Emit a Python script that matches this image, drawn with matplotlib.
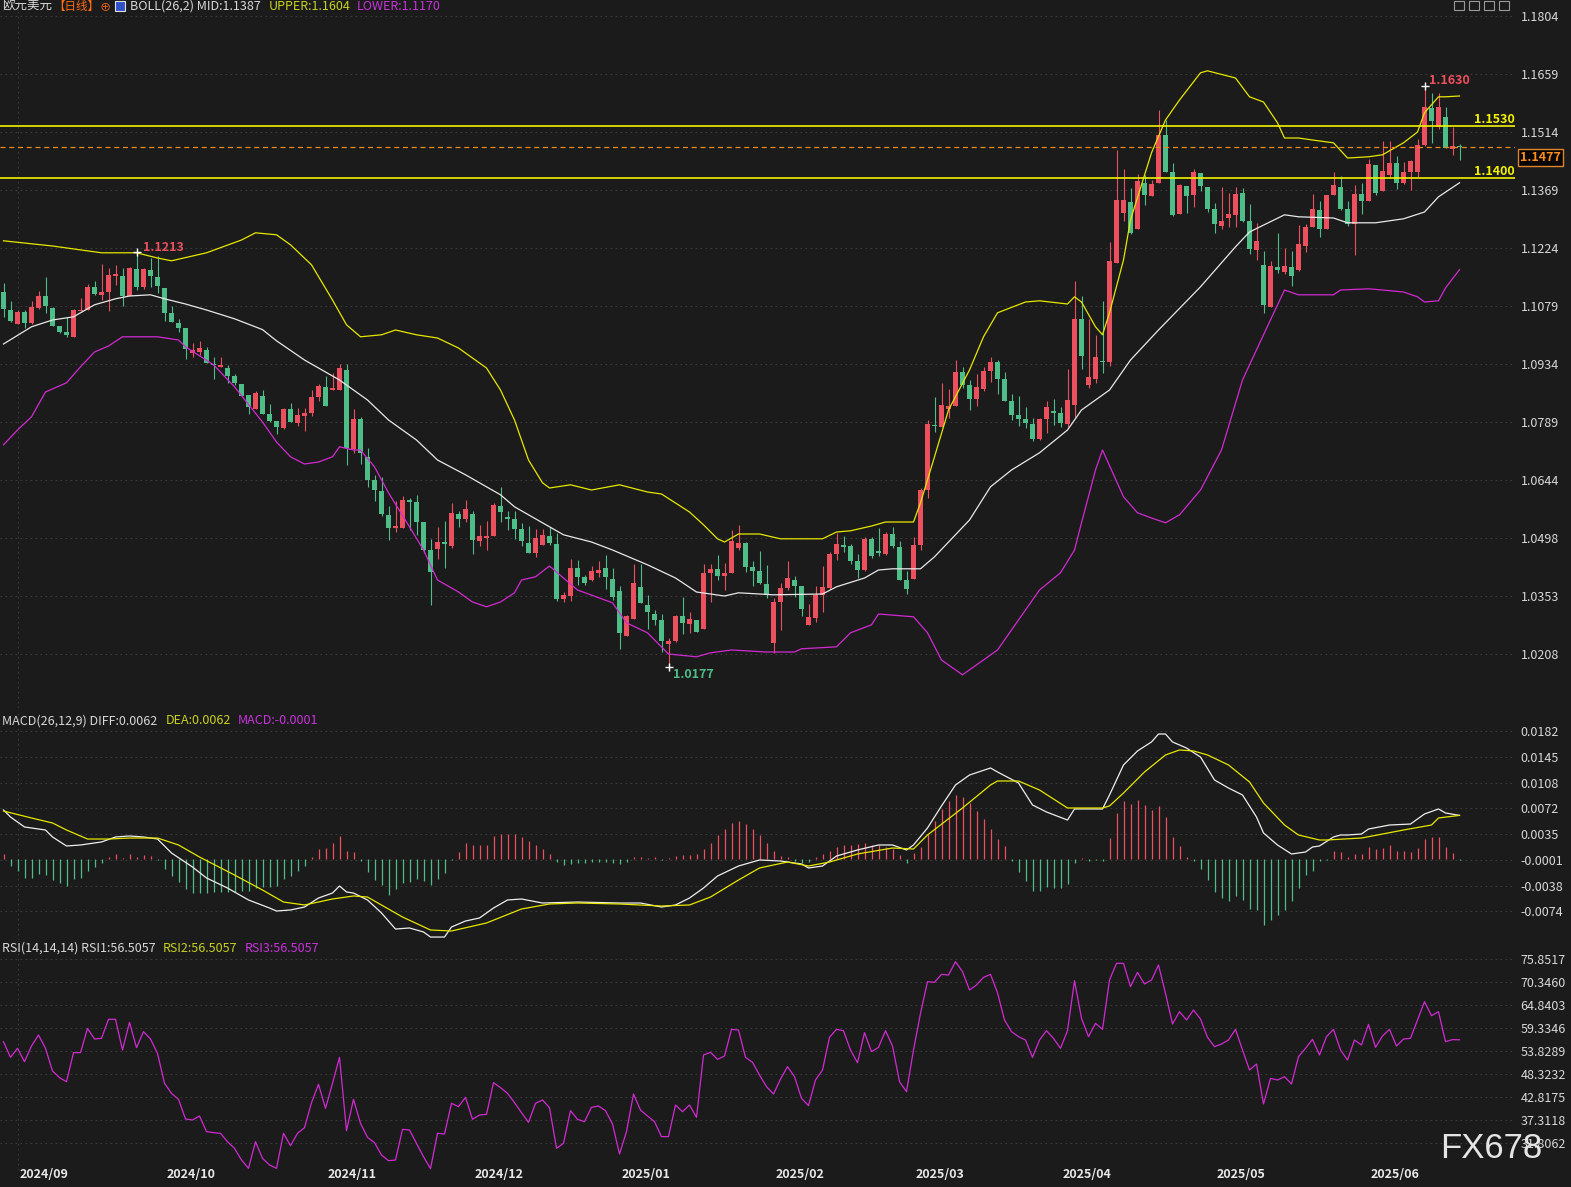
import numpy as np
import matplotlib
matplotlib.use('Agg')
import matplotlib.pyplot as plt
from matplotlib.patches import Rectangle

plt.rcParams['font.family'] = ['Noto Sans CJK SC', 'DejaVu Sans']

# ---- daily EUR/USD candles, 2024-08-29 .. 2025-06-19 ----
opens = [1.1114,1.1069,1.1035,1.1064,1.1037,1.1074,1.1104,1.1074,1.1029,1.1014,
         1.1002,1.1067,1.1070,1.1127,1.1107,1.1115,1.1155,1.1154,1.1104,1.1171,
         1.1127,1.1169,1.1152,1.1124,1.1062,1.1036,1.1024,1.0962,1.0964,1.0968,
         1.0934,1.0927,1.0924,1.0904,1.0884,1.0856,1.0821,1.0854,1.0809,1.0791,
         1.0774,1.0821,1.0787,1.0804,1.0811,1.0851,1.0877,1.0869,1.0869,1.0919,
         1.0721,1.0797,1.0702,1.0644,1.0617,1.0557,1.0524,1.0524,1.0594,1.0589,
         1.0539,1.0469,1.0471,1.0489,1.0479,1.0559,1.0547,1.0559,1.0491,1.0499,
         1.0504,1.0579,1.0551,1.0546,1.0521,1.0486,1.0461,1.0481,1.0504,1.0484,
         1.0346,1.0354,1.0424,1.0401,1.0394,1.0412,1.0424,1.0396,1.0366,1.0254,
         1.0297,1.0376,1.0331,1.0309,1.0294,1.0234,1.0241,1.0304,1.0284,1.0294,
         1.0271,1.0411,1.0421,1.0404,1.0411,1.0475,1.0487,1.0427,1.0416,1.0384,
         1.0237,1.0339,1.0374,1.0394,1.0379,1.0281,1.0299,1.0357,1.0374,1.0459,
         1.0481,1.0479,1.0442,1.0419,1.0496,1.0466,1.0459,1.0509,1.0476,1.0394,
         1.0397,1.0482,1.0619,1.0782,1.0777,1.0822,1.0829,1.0914,1.0881,1.0846,
         1.0871,1.0916,1.0939,1.0897,1.0842,1.0806,1.0796,1.0784,1.0746,1.0796,
         1.0816,1.0811,1.0784,1.0832,1.1046,1.0881,1.0896,1.0941,1.0939,1.1186,
         1.1312,1.1339,1.1272,1.1387,1.1354,1.1387,1.1507,1.1414,1.1309,1.1379,
         1.1357,1.1412,1.1377,1.1322,1.1279,1.1299,1.1307,1.1362,1.1292,1.1219,
         1.1182,1.1077,1.1177,1.1164,1.1177,1.1169,1.1229,1.1276,1.1319,1.1272,
         1.1357,1.1377,1.1322,1.1284,1.1359,1.1342,1.1432,1.1367,1.1406,1.1437,
         1.1387,1.1414,1.1414,1.1482,1.1574,1.1527,1.1552,1.1472,1.1480]
highs = [1.1137,1.1091,1.1068,1.1068,1.1091,1.1117,1.1152,1.1077,1.1029,1.1051,
         1.1071,1.1099,1.1133,1.1142,1.1185,1.1175,1.1181,1.1173,1.1177,1.1213,
         1.1175,1.1199,1.1205,1.1124,1.1079,1.1046,1.1024,1.0986,1.0991,1.0976,
         1.0952,1.0952,1.0932,1.0910,1.0884,1.0856,1.0866,1.0869,1.0834,1.0791,
         1.0825,1.0836,1.0823,1.0823,1.0869,1.0884,1.0904,1.0912,1.0934,1.0934,
         1.0822,1.0802,1.0724,1.0657,1.0651,1.0579,1.0592,1.0604,1.0599,1.0607,
         1.0539,1.0497,1.0526,1.0541,1.0586,1.0567,1.0594,1.0567,1.0532,1.0541,
         1.0587,1.0626,1.0566,1.0566,1.0536,1.0529,1.0521,1.0521,1.0526,1.0511,
         1.0364,1.0446,1.0444,1.0406,1.0429,1.0441,1.0456,1.0424,1.0379,1.0307,
         1.0434,1.0434,1.0356,1.0319,1.0309,1.0249,1.0306,1.0351,1.0314,1.0294,
         1.0434,1.0434,1.0456,1.0436,1.0519,1.0531,1.0489,1.0441,1.0466,1.0431,
         1.0349,1.0387,1.0441,1.0404,1.0379,1.0334,1.0379,1.0429,1.0464,1.0511,
         1.0504,1.0484,1.0459,1.0501,1.0501,1.0524,1.0514,1.0526,1.0491,1.0417,
         1.0501,1.0624,1.0794,1.0852,1.0887,1.0872,1.0944,1.0926,1.0894,1.0909,
         1.0926,1.0951,1.0944,1.0914,1.0859,1.0854,1.0826,1.0799,1.0799,1.0841,
         1.0846,1.0826,1.0921,1.1141,1.1104,1.1046,1.1006,1.1091,1.1239,1.1469,
         1.1422,1.1374,1.1409,1.1407,1.1394,1.1569,1.1544,1.1436,1.1384,1.1379,
         1.1422,1.1412,1.1377,1.1336,1.1377,1.1362,1.1377,1.1374,1.1334,1.1287,
         1.1217,1.1192,1.1262,1.1224,1.1217,1.1282,1.1284,1.1359,1.1342,1.1357,
         1.1414,1.1404,1.1342,1.1382,1.1387,1.1447,1.1432,1.1492,1.1492,1.1454,
         1.1439,1.1444,1.1497,1.1630,1.1611,1.1611,1.1577,1.1527,1.1484]
lows = [1.1052,1.1040,1.1033,1.1025,1.1035,1.1071,1.1062,1.1028,1.1011,1.1001,
        1.1002,1.1066,1.1070,1.1107,1.1094,1.1066,1.1131,1.1079,1.1104,1.1119,
        1.1122,1.1127,1.1112,1.1042,1.1039,1.1014,1.0947,1.0952,1.0957,1.0936,
        1.0897,1.0926,1.0886,1.0881,1.0855,1.0810,1.0821,1.0810,1.0790,1.0759,
        1.0771,1.0789,1.0779,1.0767,1.0804,1.0841,1.0829,1.0869,1.0869,1.0681,
        1.0712,1.0684,1.0627,1.0592,1.0554,1.0494,1.0514,1.0524,1.0519,1.0507,
        1.0461,1.0332,1.0447,1.0424,1.0474,1.0527,1.0539,1.0459,1.0479,1.0469,
        1.0504,1.0539,1.0519,1.0496,1.0479,1.0461,1.0451,1.0481,1.0481,1.0341,
        1.0340,1.0341,1.0381,1.0381,1.0391,1.0402,1.0371,1.0344,1.0221,1.0254,
        1.0297,1.0336,1.0271,1.0281,1.0214,1.0177,1.0239,1.0259,1.0261,1.0264,
        1.0271,1.0339,1.0394,1.0369,1.0411,1.0470,1.0414,1.0379,1.0384,1.0349,
        1.0212,1.0269,1.0369,1.0352,1.0304,1.0281,1.0289,1.0314,1.0372,1.0444,
        1.0464,1.0434,1.0399,1.0416,1.0449,1.0454,1.0456,1.0474,1.0394,1.0359,
        1.0397,1.0469,1.0599,1.0764,1.0777,1.0799,1.0829,1.0874,1.0819,1.0829,
        1.0866,1.0889,1.0859,1.0842,1.0794,1.0779,1.0774,1.0741,1.0744,1.0761,
        1.0781,1.0776,1.0776,1.0802,1.0922,1.0874,1.0886,1.0912,1.0929,1.1186,
        1.1292,1.1259,1.1272,1.1332,1.1354,1.1387,1.1414,1.1304,1.1309,1.1312,
        1.1327,1.1367,1.1314,1.1262,1.1272,1.1277,1.1277,1.1289,1.1209,1.1194,
        1.1062,1.1077,1.1162,1.1159,1.1129,1.1167,1.1214,1.1276,1.1252,1.1272,
        1.1357,1.1319,1.1279,1.1207,1.1309,1.1342,1.1357,1.1367,1.1402,1.1372,
        1.1384,1.1369,1.1402,1.1479,1.1487,1.1521,1.1474,1.1457,1.1444]
closes = [1.1072,1.1042,1.1064,1.1037,1.1077,1.1104,1.1079,1.1030,1.1015,1.1006,
          1.1069,1.1069,1.1127,1.1109,1.1114,1.1156,1.1160,1.1104,1.1174,1.1127,
          1.1171,1.1154,1.1129,1.1062,1.1039,1.1025,1.0971,1.0969,1.0974,1.0936,
          1.0931,1.0932,1.0905,1.0887,1.0855,1.0827,1.0861,1.0810,1.0791,1.0777,
          1.0821,1.0789,1.0807,1.0811,1.0851,1.0879,1.0829,1.0874,1.0924,1.0724,
          1.0797,1.0712,1.0644,1.0619,1.0559,1.0524,1.0529,1.0594,1.0589,1.0539,
          1.0469,1.0413,1.0489,1.0485,1.0562,1.0547,1.0572,1.0494,1.0504,1.0504,
          1.0582,1.0564,1.0546,1.0521,1.0491,1.0461,1.0499,1.0506,1.0486,1.0346,
          1.0356,1.0424,1.0402,1.0387,1.0416,1.0419,1.0402,1.0351,1.0261,1.0304,
          1.0387,1.0336,1.0314,1.0294,1.0241,1.0241,1.0304,1.0286,1.0297,1.0264,
          1.0411,1.0421,1.0404,1.0411,1.0491,1.0487,1.0427,1.0417,1.0387,1.0357,
          1.0339,1.0374,1.0399,1.0379,1.0322,1.0301,1.0357,1.0377,1.0459,1.0484,
          1.0476,1.0442,1.0419,1.0496,1.0454,1.0461,1.0509,1.0479,1.0394,1.0372,
          1.0482,1.0619,1.0784,1.0779,1.0832,1.0829,1.0914,1.0881,1.0846,1.0876,
          1.0916,1.0939,1.0897,1.0842,1.0806,1.0796,1.0786,1.0746,1.0796,1.0826,
          1.0811,1.0786,1.0844,1.1046,1.0954,1.0901,1.0951,1.0939,1.1192,1.1344,
          1.1344,1.1262,1.1392,1.1357,1.1384,1.1507,1.1414,1.1306,1.1382,1.1354,
          1.1414,1.1379,1.1322,1.1284,1.1292,1.1309,1.1359,1.1292,1.1222,1.1242,
          1.1082,1.1179,1.1169,1.1179,1.1154,1.1234,1.1276,1.1321,1.1272,1.1357,
          1.1382,1.1322,1.1284,1.1359,1.1342,1.1434,1.1362,1.1417,1.1437,1.1387,
          1.1414,1.1442,1.1482,1.1577,1.1542,1.1577,1.1474,1.1480,1.1477]

# BOLL(26,2) lines (candle index, value)
upper_i = [0,7,14,19,22,24,29,34,36,39,41,44,47,49,51,54,56,59,62,65,69,71,73,75,77,78,81,84,88,92,
           94,98,100,102,103,105,108,111,117,119,121,124,126,130,131,133,135,138,140,142,146,148,152,153,
           154,156,157,158,160,161,164,166,168,171,172,176,178,180,182,183,185,187,190,192,195,197,200,
           202,203,205,206,208]
upper_v = [1.1242,1.1229,1.1212,1.1212,1.1199,1.1192,1.1212,1.1244,1.1262,1.1257,1.1232,1.1182,1.1094,
           1.1032,1.1002,1.1007,1.1019,1.1007,1.0999,1.0974,1.0924,1.0869,1.0794,1.0694,1.0637,1.0624,
           1.0632,1.0619,1.0632,1.0614,1.0609,1.0564,1.0532,1.0497,1.0489,1.0509,1.0509,1.0497,1.0497,
           1.0514,1.0517,1.0529,1.0539,1.0539,1.0587,1.0702,1.0819,1.0919,1.1002,1.1062,1.1089,1.1092,
           1.1084,1.1102,1.1089,1.1027,1.1007,1.1062,1.1194,1.1294,1.1462,1.1544,1.1594,1.1662,1.1667,
           1.1649,1.1602,1.1589,1.1537,1.1499,1.1499,1.1494,1.1487,1.1449,1.1452,1.1457,1.1487,1.1514,
           1.1562,1.1602,1.1602,1.1604]
mid_i = [0,4,7,10,13,16,18,21,23,26,29,33,37,39,43,48,52,55,59,62,66,71,73,77,80,84,87,92,96,99,
         103,105,110,117,119,123,125,127,131,133,138,141,144,148,152,154,158,161,165,171,176,178,183,
         185,190,192,196,200,203,205,208]
mid_v = [1.0984,1.1027,1.1044,1.1052,1.1082,1.1097,1.1104,1.1107,1.1097,1.1084,1.1069,1.1047,1.1020,
         1.0992,1.0944,1.0894,1.0844,1.0794,1.0744,1.0694,1.0657,1.0607,1.0577,1.0537,1.0507,1.0489,
         1.0469,1.0432,1.0399,1.0364,1.0354,1.0362,1.0357,1.0359,1.0377,1.0399,1.0419,1.0422,1.0422,
         1.0452,1.0544,1.0627,1.0669,1.0712,1.0769,1.0819,1.0869,1.0944,1.1019,1.1127,1.1227,1.1264,
         1.1307,1.1302,1.1299,1.1287,1.1287,1.1297,1.1314,1.1352,1.1387]
lower_i = [0,2,4,6,9,11,13,15,17,22,25,26,30,33,37,39,41,43,45,47,48,50,51,53,55,58,60,62,65,67,
           69,71,73,74,76,78,80,82,87,89,92,95,99,101,104,109,113,114,119,121,124,125,130,132,134,137,
           142,148,151,153,154,156,157,160,162,164,166,168,171,174,177,180,183,185,190,191,195,197,200,
           202,203,205,206,208]
lower_v = [1.0732,1.0769,1.0802,1.0864,1.0887,1.0927,1.0964,1.0979,1.1002,1.1002,1.0994,1.0977,1.0932,
           1.0877,1.0789,1.0739,1.0702,1.0684,1.0689,1.0702,1.0727,1.0719,1.0719,1.0677,1.0612,1.0527,
           1.0469,1.0394,1.0364,1.0339,1.0327,1.0339,1.0362,1.0394,1.0402,1.0429,1.0399,1.0369,1.0337,
           1.0287,1.0262,1.0209,1.0202,1.0212,1.0219,1.0214,1.0214,1.0222,1.0227,1.0262,1.0282,1.0309,
           1.0302,1.0262,1.0194,1.0157,1.0219,1.0369,1.0412,1.0469,1.0537,1.0669,1.0719,1.0602,1.0562,
           1.0549,1.0537,1.0557,1.0619,1.0719,1.0894,1.1007,1.1119,1.1107,1.1107,1.1119,1.1122,1.1119,
           1.1114,1.1102,1.1089,1.1092,1.1124,1.1170]

# MACD(26,12,9)
diff_i = [0,1,3,6,7,9,11,14,16,18,20,22,24,27,29,32,35,38,39,41,43,45,47,48,49,50,52,54,56,58,
          60,61,63,64,66,68,70,72,74,77,82,88,91,94,96,98,100,102,105,108,111,114,115,117,119,122,125,
          127,129,130,132,134,136,138,141,142,145,147,149,152,153,157,158,160,162,164,165,166,167,169,
          171,173,175,177,179,180,182,184,186,187,188,190,191,192,194,195,198,201,203,205,206,208]
diff_v = [0.00697,0.00597,0.00455,0.00412,0.00313,0.00185,0.00199,0.00242,0.00313,0.00327,0.00313,
          0.00284,0.00085,-0.00114,-0.00270,-0.00413,-0.00583,-0.00697,-0.00740,-0.00725,-0.00683,
          -0.00555,-0.00484,-0.00384,-0.00469,-0.00484,-0.00583,-0.00768,-0.00996,-0.00981,-0.01038,
          -0.01110,-0.01110,-0.00967,-0.00882,-0.00839,-0.00697,-0.00583,-0.00569,-0.00626,-0.00612,
          -0.00626,-0.00626,-0.00683,-0.00654,-0.00555,-0.00413,-0.00242,-0.00100,-0.00014,-0.00029,
          -0.00071,-0.00128,-0.00100,0.00042,0.00128,0.00199,0.00199,0.00128,0.00199,0.00441,0.00754,
          0.01052,0.01194,0.01294,0.01237,0.01081,0.00768,0.00668,0.00554,0.00711,0.00711,0.00910,
          0.01337,0.01536,0.01664,0.01777,0.01777,0.01664,0.01578,0.01450,0.01123,0.01009,0.00910,
          0.00597,0.00370,0.00199,0.00071,0.00099,0.00170,0.00185,0.00313,0.00341,0.00341,0.00355,
          0.00426,0.00483,0.00497,0.00640,0.00711,0.00654,0.0062]
dea_i = [0,4,7,9,12,15,18,22,25,28,33,37,40,43,47,50,52,57,61,64,69,74,78,82,88,94,98,101,105,108,
         112,115,118,122,127,130,132,137,141,142,145,148,152,157,158,160,163,166,168,170,172,175,178,
         180,183,185,188,189,194,200,204,205,208]
dea_v = [0.00682,0.00583,0.00512,0.00412,0.00284,0.00284,0.00298,0.00298,0.00199,0.00028,-0.00228,
         -0.00441,-0.00612,-0.00654,-0.00569,-0.00526,-0.00541,-0.00825,-0.01010,-0.01024,-0.00910,
         -0.00711,-0.00640,-0.00626,-0.00640,-0.00669,-0.00654,-0.00541,-0.00299,-0.00128,-0.00043,
         -0.00100,-0.00043,0.00071,0.00156,0.00142,0.00341,0.00725,0.01052,0.01109,0.01109,0.00981,
         0.00725,0.00725,0.00754,0.00938,0.01237,0.01479,0.01550,0.01536,0.01479,0.01337,0.01095,
         0.00796,0.00483,0.00341,0.00270,0.00270,0.00298,0.00412,0.00483,0.00583,0.0062]
macd_hist = [0.00071,-0.00095,-0.00175,-0.00274,-0.00274,-0.00213,-0.00228,-0.00299,-0.00341,-0.00388,
             -0.00284,-0.00274,-0.00166,-0.00109,-0.00057,0.00033,0.00067,0.00010,0.00067,0.00024,
             0.00053,0.00038,-0.00014,-0.00142,-0.00237,-0.00331,-0.00427,-0.00488,-0.00488,-0.00488,
             -0.00474,-0.00465,-0.00474,-0.00465,-0.00451,-0.00451,-0.00412,-0.00402,-0.00402,-0.00380,
             -0.00284,-0.00237,-0.00175,-0.00095,0.00028,0.00138,0.00156,0.00223,0.00323,0.00118,
             0.00095,-0.00033,-0.00189,-0.00299,-0.00370,-0.00512,-0.00427,-0.00341,-0.00323,-0.00284,
             -0.00313,-0.00370,-0.00284,-0.00199,-0.00014,0.00095,0.00223,0.00203,0.00203,0.00203,
             0.00323,0.00356,0.00356,0.00356,0.00313,0.00256,0.00199,0.00142,0.00071,-0.00043,
             -0.00085,-0.00071,-0.00057,-0.00057,-0.00043,-0.00043,-0.00043,-0.00057,-0.00071,-0.00043,
             0.00028,0.00028,0.00014,0.00028,-0.00014,0.00014,0.00043,0.00057,0.00057,0.00071,
             0.00142,0.00228,0.00341,0.00427,0.00512,0.00540,0.00498,0.00427,0.00341,0.00228,
             0.00114,0.00043,0.00028,-0.00028,-0.00057,-0.00043,0.00028,0.00071,0.00114,0.00171,
             0.00199,0.00199,0.00213,0.00228,0.00199,0.00199,0.00171,0.00142,0.00057,-0.00057,
             0.00085,0.00171,0.00356,0.00540,0.00711,0.00825,0.00910,0.00882,0.00796,0.00683,
             0.00569,0.00427,0.00284,0.00189,-0.00033,-0.00181,-0.00309,-0.00451,-0.00451,-0.00402,
             -0.00417,-0.00417,-0.00356,-0.00057,0.00010,-0.00033,-0.00018,-0.00024,0.00299,0.00650,
             0.00821,0.00782,0.00835,0.00768,0.00693,0.00754,0.00593,0.00313,0.00189,0.00024,
             -0.00033,-0.00146,-0.00299,-0.00465,-0.00559,-0.00597,-0.00530,-0.00583,-0.00707,-0.00725,
             -0.00939,-0.00863,-0.00796,-0.00725,-0.00593,-0.00412,-0.00228,-0.00175,-0.00033,-0.00014,
             0.00109,0.00095,0.00024,0.00067,0.00067,0.00175,0.00138,0.00152,0.00199,0.00118,
             0.00109,0.00095,0.00152,0.00280,0.00313,0.00313,0.00175,0.00085,-0.00010]

# RSI(14,14,14) - the three lines coincide
rsi = [56.06,52.31,54.47,51.27,55.02,57.66,54.47,49.04,47.44,46.49,
       53.43,53.43,59.25,56.70,56.86,61.41,61.41,54.07,60.69,54.62,
       58.46,56.70,53.27,46.09,43.69,42.26,37.55,37.31,38.27,34.52,
       34.28,34.12,32.12,30.53,27.73,25.74,32.12,28.13,26.54,25.74,
       34.12,31.16,34.12,35.47,41.46,45.85,40.10,46.09,52.31,34.75,
       42.26,36.51,33.16,31.88,28.93,27.57,27.73,35.07,34.91,31.72,
       28.53,25.66,34.12,33.96,41.30,40.50,42.73,37.47,38.51,38.66,
       46.25,45.05,43.69,41.46,39.06,36.75,41.30,42.10,40.26,30.53,
       31.72,39.54,37.47,36.91,40.34,40.66,39.54,36.35,29.17,34.52,
       43.53,39.70,38.27,36.91,33.32,33.32,40.90,39.30,40.90,37.95,
       52.87,53.51,51.83,52.63,59.01,58.85,52.31,51.11,48.08,45.29,
       43.53,47.10,50.08,47.68,42.50,40.74,46.88,49.28,57.10,59.01,
       58.69,54.07,51.03,58.22,53.67,54.70,58.69,55.02,46.49,44.09,
       54.07,62.84,70.42,70.27,72.18,72.02,75.21,72.82,68.43,69.63,
       71.46,72.18,67.79,61.25,58.46,57.26,56.46,52.31,56.46,58.69,
       56.86,54.47,58.69,70.66,61.65,57.26,60.45,59.01,70.82,74.81,
       74.81,69.23,72.66,69.87,70.82,74.42,67.63,60.29,63.24,61.25,
       63.64,61.49,57.10,54.86,55.50,56.46,59.01,54.07,49.28,50.71,
       41.14,47.28,46.88,47.68,45.93,52.47,54.47,56.62,52.87,57.26,
       59.01,54.07,51.67,56.46,55.26,60.21,54.70,57.42,59.01,55.02,
       56.70,56.86,61.25,65.64,62.29,63.24,56.06,56.55,56.51]

month_i = [2, 23, 46, 67, 88, 110, 130, 151, 173, 195]
month_lbl = ['2024/09', '2024/10', '2024/11', '2024/12', '2025/01',
             '2025/02', '2025/03', '2025/04', '2025/05', '2025/06']

price_ticks = [1.1804, 1.1659, 1.1514, 1.1369, 1.1224, 1.1079, 1.0934, 1.0789, 1.0644, 1.0498, 1.0353, 1.0208]
macd_ticks = [0.0182, 0.0145, 0.0108, 0.0072, 0.0035, -0.0001, -0.0038, -0.0074]
rsi_ticks = [75.8517, 70.3460, 64.8403, 59.3346, 53.8289, 48.3232, 42.8175, 37.3118, 31.8062]

levels = [1.1530, 1.1400]
last_price = 1.1477
marks = [(19, 1.1213), (203, 1.1630), (95, 1.0177)]

BG = '#1b1b1b'
RED = '#ec4f5e'
GREEN = '#4fbd88'
GRID = '#3c3c3c'
TXT = '#d8d8d8'
YEL = '#e6e600'
MAG = '#d22ad2'

W, H = 1571, 1187
PR = 1515
fig = plt.figure(figsize=(W / 100, H / 100), dpi=100, facecolor=BG)


def panel(top, bottom, ylim, ticks, fmt):
    ax = fig.add_axes([0, 1 - bottom / H, PR / W, (bottom - top) / H])
    ax.set_facecolor(BG)
    for s in ax.spines.values():
        s.set_visible(False)
    ax.set_xlim(-0.5, (PR - 3.5) / 7)
    ax.set_ylim(*ylim)
    ax.set_xticks([])
    ax.yaxis.tick_right()
    ax.set_yticks(ticks)
    ax.set_yticklabels([fmt % t for t in ticks])
    ax.tick_params(axis='y', length=0, pad=4, labelsize=9, labelcolor=TXT)
    ax.grid(axis='y', color=GRID, ls=(0, (1.5, 3)), lw=0.8)
    ax.axvline(2, color=GRID, ls=(0, (1.5, 3)), lw=0.8)
    return ax


def ftext(x, y, s, **kw):
    fig.text(x / W, 1 - y / H, s, ha=kw.pop('ha', 'left'), va='center', **kw)


# ---------------- main price panel ----------------
ax = panel(0, 708, (1.0074, 1.1844), price_ticks, '%.4f')
idx = np.arange(len(closes))
o, h, l, c = map(np.array, (opens, highs, lows, closes))
cols = np.where(c >= o, RED, GREEN)
ax.vlines(idx, l, h, colors=cols, lw=0.8, zorder=3)
ax.bar(idx, np.maximum(np.abs(c - o), 0.00028), bottom=np.minimum(o, c), width=0.72,
       color=cols, lw=0, zorder=3)

ax.plot(upper_i, upper_v, color=YEL, lw=0.9, zorder=4)
ax.plot(mid_i, mid_v, color='#e8e8e8', lw=0.9, zorder=4)
ax.plot(lower_i, lower_v, color=MAG, lw=0.9, zorder=4)

for lv in levels:
    ax.axhline(lv, color='#f2f200', lw=1.2, zorder=5)
    ax.annotate('%.4f' % lv, xy=(1, lv), xycoords=('axes fraction', 'data'), xytext=(0, 6),
                textcoords='offset pixels', ha='right', va='center', color='#f2f200',
                fontsize=9, fontweight='bold')
ax.axhline(last_price, color='#e8891e', ls=(0, (4, 3)), lw=0.9, zorder=5)
ax.annotate('%.4f' % last_price, xy=(1, last_price), xycoords=('axes fraction', 'data'),
            xytext=(5, -11), textcoords='offset pixels', ha='left', va='center',
            color='#ff8c1a', fontsize=9, fontweight='bold', annotation_clip=False,
            bbox=dict(boxstyle='square,pad=0.15', fc='#050505', ec='#e0842a', lw=1))

for (mi, mv), (dx, dy), col in zip(marks, [(6, 5), (5, 5), (5, -8)], [RED, RED, GREEN]):
    ax.plot(mi, mv, marker='+', color='white', ms=6, mew=1, zorder=6)
    ax.annotate('%.4f' % mv, xy=(mi, mv), xytext=(dx, dy), textcoords='offset pixels',
                ha='left', va='center', color=col, fontsize=9, fontweight='bold')

# ---------------- MACD panel ----------------
axm = panel(712, 940, (-0.01152, 0.0209), macd_ticks, '%.4f')
hist = np.array(macd_hist)
axm.vlines(idx, 0, hist, colors=np.where(hist >= 0, RED, GREEN), lw=0.9)
axm.plot(diff_i, diff_v, color='#eeeeee', lw=0.9)
axm.plot(dea_i, dea_v, color=YEL, lw=0.9)

# ---------------- RSI panel ----------------
axr = panel(940, 1170, (25.34, 80.40), rsi_ticks, '%.4f')
axr.plot(idx, rsi, color=MAG, lw=0.9)

# ---------------- texts ----------------
ftext(2, 6, '欧元美元', color=TXT, fontsize=9)
ftext(53, 6, '【日线】', color='#ff6a13', fontsize=8.3)
ftext(100, 7, '⊕', color='#ff6a13', fontsize=8)
fig.patches.append(Rectangle((115 / W, 1 - 11 / H), 10 / W, 10 / H, transform=fig.transFigure,
                             fc='#3050c8', ec='#e0e0e0', lw=0.8))
ftext(130, 6, 'BOLL(26,2) MID:1.1387', color=TXT, fontsize=9)
ftext(269, 6, 'UPPER:1.1604', color='#c8d21e', fontsize=9)
ftext(357, 6, 'LOWER:1.1170', color='#c832dc', fontsize=9)
for k in range(4):
    fig.patches.append(Rectangle(((1454 + 15 * k) / W, 1 - 10 / H), 10 / W, 9 / H,
                                 transform=fig.transFigure, fc='none', ec='#9a9a9a', lw=0.8))

ftext(2, 721, 'MACD(26,12,9) DIFF:0.0062', color=TXT, fontsize=9)
ftext(166, 721, 'DEA:0.0062', color='#c8d21e', fontsize=9)
ftext(238, 721, 'MACD:-0.0001', color='#c832dc', fontsize=9)

ftext(2, 948, 'RSI(14,14,14) RSI1:56.5057', color=TXT, fontsize=9)
ftext(163, 948, 'RSI2:56.5057', color='#c8d21e', fontsize=9)
ftext(245, 948, 'RSI3:56.5057', color='#c832dc', fontsize=9)

for mi, ml in zip(month_i, month_lbl):
    ftext(3.5 + 7 * mi + 2, 1175, ml, color='#e8e8e8', fontsize=9, fontweight='bold')

ftext(1440, 1149, 'FX678', color='#e4e4e4', fontsize=25, family='Liberation Sans', zorder=10)

fig.savefig('out.png', dpi=100, facecolor=BG)
